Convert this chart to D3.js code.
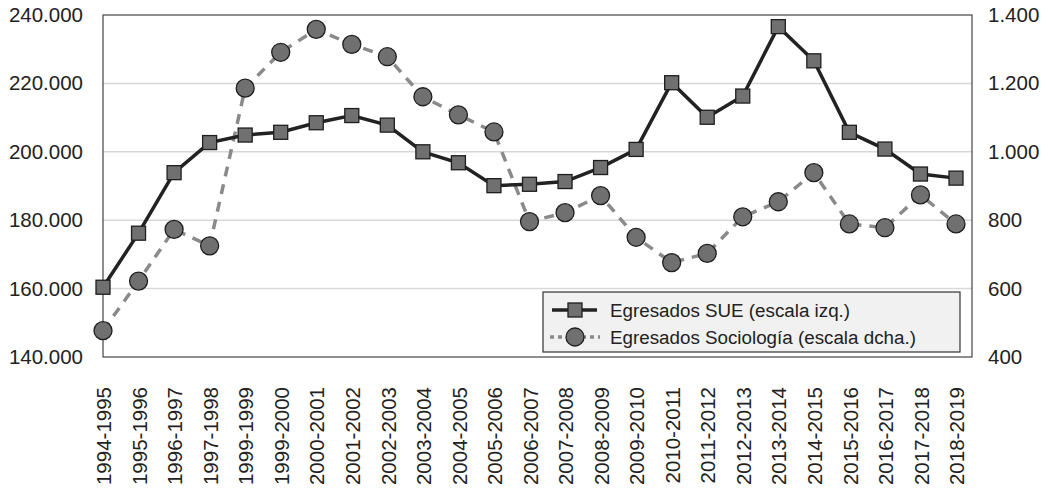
<!DOCTYPE html>
<html>
<head>
<meta charset="utf-8">
<script src="https://cdn.jsdelivr.net/npm/d3@7"></script>
<style>
  body { margin: 0; background: #fff; }
  text { font-family: "Liberation Sans", Arial, sans-serif; fill: #222; }
</style>
</head>
<body>
<div id="chart"></div>
<script>
var cursos = ["1994-1995", "1995-1996", "1996-1997", "1997-1998", "1999-1999", "1999-2000",
  "2000-2001", "2001-2002", "2002-2003", "2003-2004", "2004-2005", "2005-2006", "2006-2007",
  "2007-2008", "2008-2009", "2009-2010", "2010-2011", "2011-2012", "2012-2013", "2013-2014",
  "2014-2015", "2015-2016", "2016-2017", "2017-2018", "2018-2019"];

// egresados SUE (escala izq.)
var sue = [160400, 176200, 193900, 202700, 204900, 205700, 208500, 210600, 207800, 200000,
  196800, 190100, 190500, 191300, 195400, 200700, 220200, 210100, 216300, 236600,
  226600, 205700, 200800, 193500, 192300];

// egresados Sociologia (escala dcha.)
var socio = [477, 622, 773, 725, 1186, 1291, 1358, 1314, 1278, 1161,
  1108, 1058, 796, 822, 872, 750, 676, 703, 810, 854,
  939, 789, 778, 874, 789];

var ticksIzq = [140000, 160000, 180000, 200000, 220000, 240000];
var ticksDcha = [400, 600, 800, 1000, 1200, 1400];

var width = 1051,
    height = 489;
var pLeft = 103, pRight = 972, pTop = 15, pBottom = 357;
var lastX = 956;

var es = d3.formatLocale({ decimal: ",", thousands: ".", grouping: [3], currency: ["", "€"] });
var fmt = es.format(",");

var x = d3.scalePoint()
    .domain(cursos)
    .range([pLeft, lastX]);

var yL = d3.scaleLinear().domain([140000, 240000]).range([pBottom, pTop]);
var yR = d3.scaleLinear().domain([400, 1400]).range([pBottom, pTop]);

var svg = d3.select("#chart").append("svg")
    .attr("width", width)
    .attr("height", height);

// grid
svg.append("g")
  .selectAll("line")
  .data(ticksIzq.slice(1, -1))
  .enter().append("line")
    .attr("x1", pLeft).attr("x2", pRight)
    .attr("y1", function(d) { return yL(d); })
    .attr("y2", function(d) { return yL(d); })
    .attr("stroke", "#d8d8d8")
    .attr("stroke-width", 1.5);

// frame
svg.append("rect")
    .attr("x", pLeft).attr("y", pTop)
    .attr("width", pRight - pLeft).attr("height", pBottom - pTop)
    .attr("fill", "none")
    .attr("stroke", "#444")
    .attr("stroke-width", 1.2);

// left axis
var axL = svg.append("g")
    .attr("transform", "translate(" + pLeft + ",0)")
    .call(d3.axisLeft(yL).tickValues(ticksIzq).tickFormat(fmt).tickSize(0).tickPadding(20));
axL.select(".domain").remove();
axL.selectAll("text").style("font-size", "20.5px").attr("fill", "#222");

// right axis
var axR = svg.append("g")
    .attr("transform", "translate(" + pRight + ",0)")
    .call(d3.axisRight(yR).tickValues(ticksDcha).tickFormat(fmt).tickSize(0).tickPadding(16));
axR.select(".domain").remove();
axR.selectAll("text").style("font-size", "20.5px").attr("fill", "#222");

// x labels
svg.append("g")
  .selectAll("text")
  .data(cursos)
  .enter().append("text")
    .attr("transform", function(d) { return "translate(" + (x(d) + 1) + "," + (pBottom + 30) + ") rotate(-90)"; })
    .attr("text-anchor", "end")
    .attr("dy", "0.35em")
    .style("font-size", "20.5px")
    .text(function(d) { return d; });

// lines
var lineL = d3.line()
    .x(function(d, i) { return x(cursos[i]); })
    .y(function(d) { return yL(d); });
var lineR = d3.line()
    .x(function(d, i) { return x(cursos[i]); })
    .y(function(d) { return yR(d); });

svg.append("path")
    .attr("d", lineR(socio))
    .attr("fill", "none")
    .attr("stroke", "#8a8a8a")
    .attr("stroke-width", 3.5)
    .attr("stroke-dasharray", "10,8");

svg.append("path")
    .attr("d", lineL(sue))
    .attr("fill", "none")
    .attr("stroke", "#222")
    .attr("stroke-width", 3.5);

// markers
svg.append("g")
  .selectAll("circle")
  .data(socio)
  .enter().append("circle")
    .attr("cx", function(d, i) { return x(cursos[i]); })
    .attr("cy", function(d) { return yR(d); })
    .attr("r", 9)
    .attr("fill", "#707070")
    .attr("stroke", "#1e1e1e")
    .attr("stroke-width", 1.3);

var sq = 14;
svg.append("g")
  .selectAll("rect")
  .data(sue)
  .enter().append("rect")
    .attr("x", function(d, i) { return x(cursos[i]) - sq / 2; })
    .attr("y", function(d) { return yL(d) - sq / 2; })
    .attr("width", sq).attr("height", sq)
    .attr("fill", "#707070")
    .attr("stroke", "#1e1e1e")
    .attr("stroke-width", 1.3);

// legend
var leg = svg.append("g");
leg.append("rect")
    .attr("x", 543).attr("y", 292)
    .attr("width", 417).attr("height", 60)
    .attr("fill", "#f1f1f1")
    .attr("stroke", "#333")
    .attr("stroke-width", 1.2);

leg.append("line")
    .attr("x1", 552).attr("x2", 597).attr("y1", 310).attr("y2", 310)
    .attr("stroke", "#222").attr("stroke-width", 3.5);
leg.append("rect")
    .attr("x", 575 - 7).attr("y", 310 - 7).attr("width", 14).attr("height", 14)
    .attr("fill", "#707070").attr("stroke", "#1e1e1e").attr("stroke-width", 1.3);
leg.append("text")
    .attr("x", 610).attr("y", 310).attr("dy", "0.35em")
    .style("font-size", "18.8px")
    .text("Egresados SUE (escala izq.)");

leg.append("line")
    .attr("x1", 550).attr("x2", 600).attr("y1", 337).attr("y2", 337)
    .attr("stroke", "#8a8a8a").attr("stroke-width", 3.5)
    .attr("stroke-dasharray", "4,4");
leg.append("circle")
    .attr("cx", 575).attr("cy", 337).attr("r", 9)
    .attr("fill", "#707070").attr("stroke", "#1e1e1e").attr("stroke-width", 1.3);
leg.append("text")
    .attr("x", 610).attr("y", 337).attr("dy", "0.35em")
    .style("font-size", "18.8px")
    .text("Egresados Sociología (escala dcha.)");
</script>
</body>
</html>
